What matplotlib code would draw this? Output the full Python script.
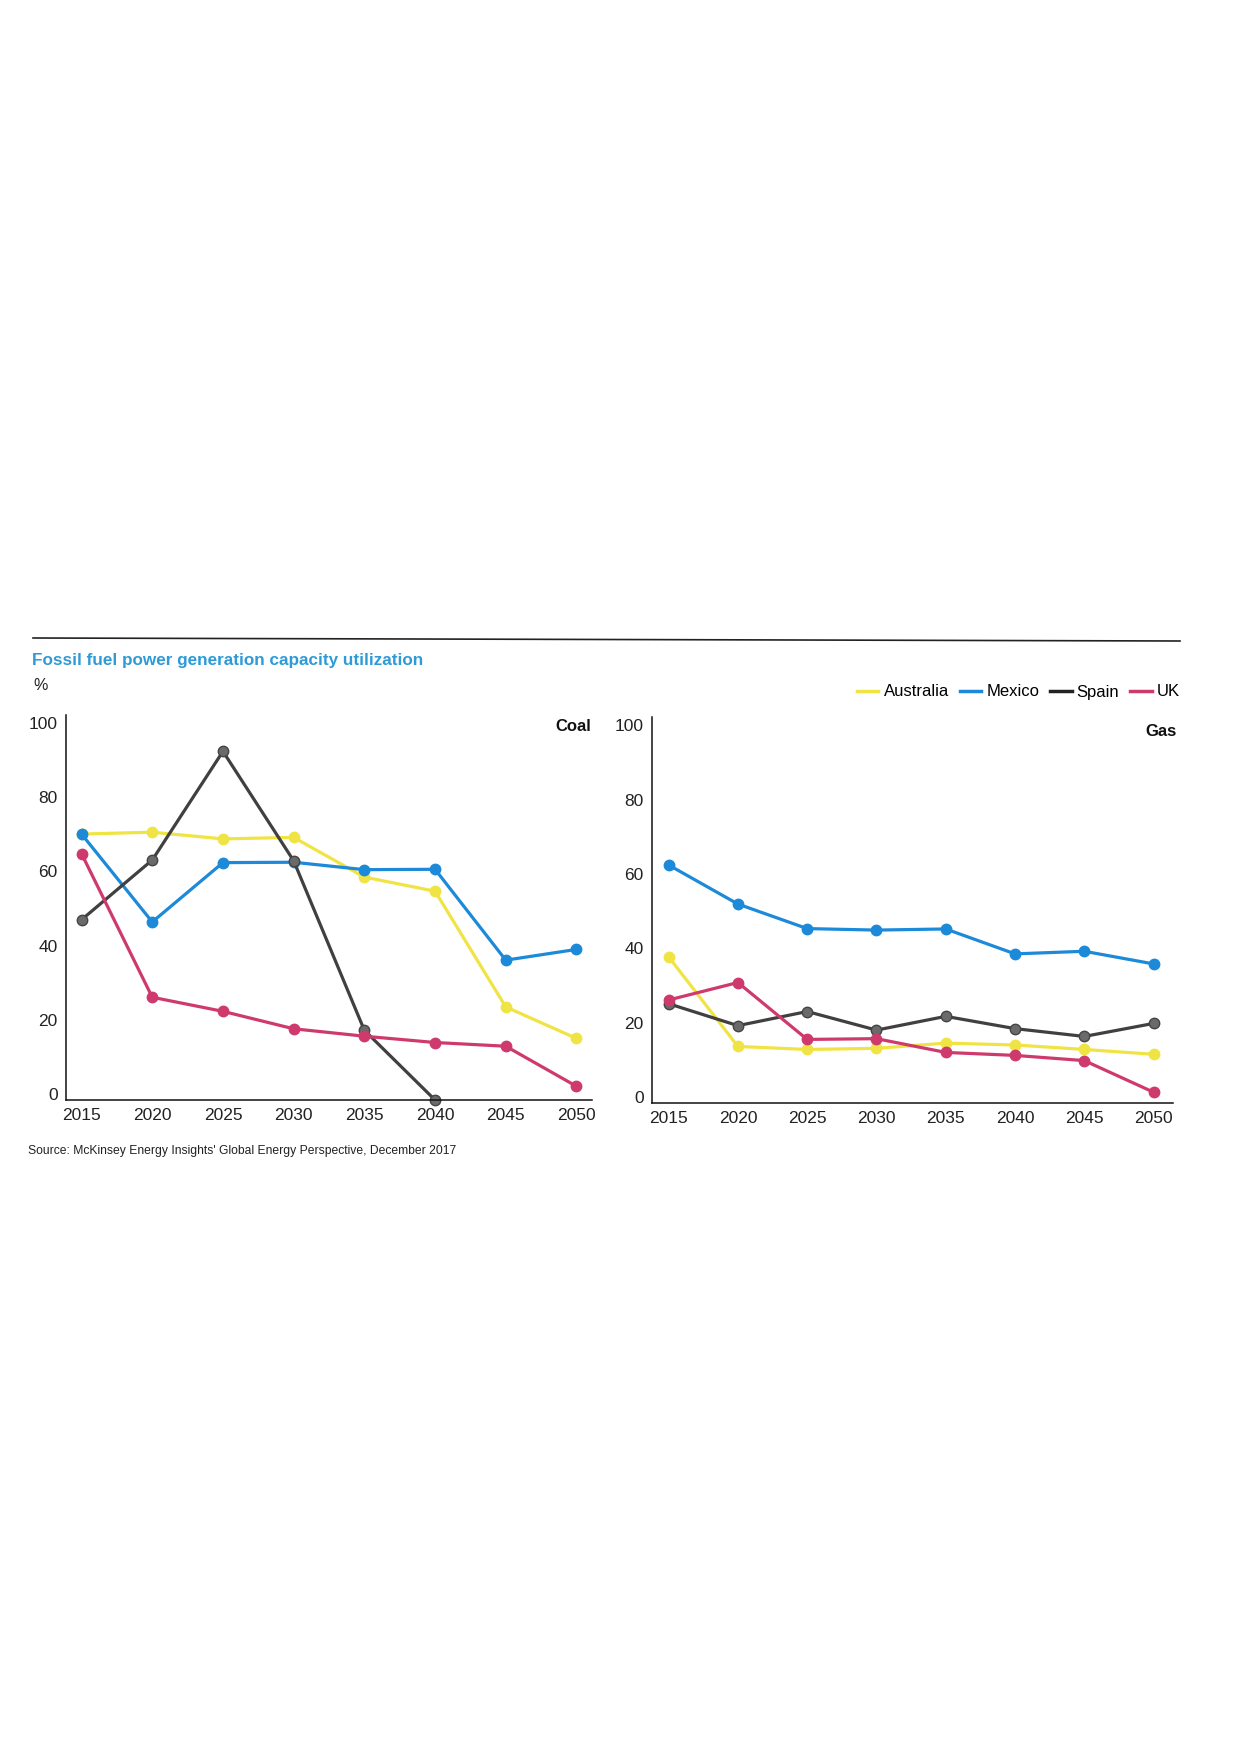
import matplotlib
matplotlib.use("Agg")
import matplotlib.pyplot as plt
from matplotlib.lines import Line2D

plt.rcParams['font.family'] = ['Liberation Sans', 'DejaVu Sans']

years = [2015, 2020, 2025, 2030, 2035, 2040, 2045, 2050]
countries = ['Australia', 'Mexico', 'Spain', 'UK']
colors = ['#f0e444', '#1c8ad9', '#404040', '#cf3a6e']
marker_colors = ['#f0e444', '#1c8ad9', '#6a6a6a', '#cf3a6e']

# coal utilization, %
coal_australia = [71.7, 72.2, 70.4, 70.8, 60.1, 56.3, 25.1, 16.6]
coal_mexico = [71.7, 48.0, 64.0, 64.1, 62.1, 62.2, 37.7, 40.6]
coal_spain = [48.6, 64.7, 94.0, 64.5, 18.8, 0.0]
coal_uk = [66.4, 27.7, 23.9, 19.2, 17.2, 15.5, 14.5, 3.7]

# gas utilization, %
gas_australia = [39.3, 15.2, 14.4, 14.7, 16.1, 15.6, 14.4, 13.1]
gas_mexico = [64.0, 53.5, 46.9, 46.5, 46.8, 40.1, 40.8, 37.4]
gas_spain = [26.7, 20.8, 24.6, 19.6, 23.3, 20.0, 17.9, 21.4]
gas_uk = [27.7, 32.4, 17.1, 17.3, 13.6, 12.8, 11.4, 2.9]

coal = [coal_australia, coal_mexico, coal_spain, coal_uk]
gas = [gas_australia, gas_mexico, gas_spain, gas_uk]
yticks = [0, 20, 40, 60, 80, 100]

W, H = 1240, 1754
fig = plt.figure(figsize=(W / 100, H / 100), dpi=100)

def px(x0, y0, x1, y1):
    # pixel box (top-left origin) -> figure fraction rect
    return [x0 / W, 1 - y1 / H, (x1 - x0) / W, (y1 - y0) / H]

ax1 = fig.add_axes(px(66, 715, 592, 1100))
ax2 = fig.add_axes(px(652, 717, 1173, 1103))

for ax, data, xl in [(ax1, coal, (2013.9, 2051.1)), (ax2, gas, (2013.8, 2051.4))]:
    for vals, c, mc in zip(data, colors, marker_colors):
        ax.plot(years[:len(vals)], vals, color=c, lw=2.3, marker='o', ms=7.5,
                mfc=mc, mec=mc if mc != '#6a6a6a' else '#444444', mew=1,
                clip_on=False)
    ax.set_xlim(*xl)
    ax.set_ylim(0, 103.8)
    ax.set_xticks(years)
    ax.set_yticks(yticks)
    ax.tick_params(length=0, labelsize=12.5, colors='#222222')
    ax.tick_params(axis='x', pad=6)
    ax.tick_params(axis='y', pad=6)
    plt.setp(ax.get_yticklabels(), va='baseline')
    for s in ['top', 'right']:
        ax.spines[s].set_visible(False)
    for s in ['left', 'bottom']:
        ax.spines[s].set_color('#111111')
        ax.spines[s].set_linewidth(1.1)

# top rule
fig.add_artist(Line2D([33 / W, 1180 / W], [1 - 638 / H, 1 - 641 / H],
                      color='#222222', lw=1.2))

fig.text(32 / W, 1 - 661 / H, 'Fossil fuel power generation capacity utilization',
         color='#2e9bd6', fontsize=12.3, fontweight='bold', va='center')
fig.text(33 / W, 1 - 685 / H, '%', fontsize=11.5, color='#222222', va='center')
fig.text(591 / W, 1 - 726 / H, 'Coal', fontsize=12, fontweight='bold',
         ha='right', va='center', color='#111111')
fig.text(1177 / W, 1 - 732 / H, 'Gas', fontsize=12, fontweight='bold',
         ha='right', va='center', color='#111111')
fig.text(28 / W, 1 - 1151 / H,
         "Source: McKinsey Energy Insights' Global Energy Perspective, December 2017",
         fontsize=8.7, color='#222222', va='center')

handles = [Line2D([], [], color=c, lw=2.5) for c in ['#f0e444', '#1c8ad9', '#222222', '#cf3a6e']]
fig.legend(handles, countries, loc='center right', ncol=4, frameon=False,
           bbox_to_anchor=(1180 / W, 1 - 692 / H), fontsize=12,
           handlelength=1.3, handletextpad=0.3, columnspacing=0.65,
           borderaxespad=0, borderpad=0)

fig.savefig('out.png', dpi=100, facecolor='white')
